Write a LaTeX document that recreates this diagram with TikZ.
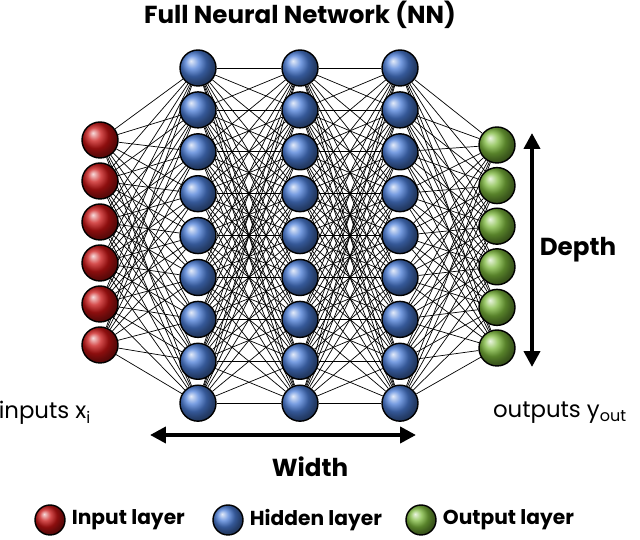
\documentclass[tikz,border=0pt]{standalone}
\usepackage{fontspec}
\setmainfont{Poppins}
\usetikzlibrary{arrows.meta}
\usetikzlibrary{backgrounds}
\definecolor{neuronred}{RGB}{200,20,20}
\definecolor{neuronblue}{RGB}{75,125,215}
\definecolor{neurongreen}{RGB}{125,185,60}
\begin{document}
\begin{tikzpicture}
[x=0.02cm,y=-0.02cm,
  neurondecorate/.style={shape=circle,minimum size=0.72cm,inner sep=0pt,draw=black,thick},%
  inputnode/.style={neurondecorate,ball color=neuronred},%
  hiddennode/.style={neurondecorate,ball color=neuronblue},%
  outputnode/.style={neurondecorate,ball color=neurongreen},%
  linedecorate/.style={-,line width=0.4pt,black},%
  arrowdecorate/.style={{Triangle[length=9pt,width=9pt]}-{Triangle[length=9pt,width=9pt]},line width=2.2pt}]
\useasboundingbox (0,0) rectangle (640,540);
%% nodes or neurons
\foreach \i in {1,...,6}
{
  \node (in\i) at (100,{140+41*(\i-1)}) [inputnode] {};
  \node (out\i) at (497,{145+40.6*(\i-1)}) [outputnode] {};
}
\foreach \layer/\x in {a/198, b/300, c/400}
{
  \foreach \i in {1,...,9}
    \node (\layer\i) at (\x,{68+41.9*(\i-1)}) [hiddennode] {};
}
%% edges or synapses
\begin{pgfonlayer}{background}
\foreach \i in {1,...,6}
  \foreach \j in {1,...,9}
  {
    \draw[linedecorate] (in\i) -- (a\j);
    \draw[linedecorate] (c\j) -- (out\i);
  }
\foreach \startlayer/\endlayer in {a/b, b/c}
  \foreach \i in {1,...,9}
    \foreach \j in {1,...,9}
      \draw[linedecorate] (\startlayer\i) -- (\endlayer\j);
\end{pgfonlayer}
%% labels
\node (title) at (300,15) {\fontsize{14}{16}\selectfont\bfseries Full Neural Network (NN)};
\node (inputs) at (45,413) {\fontsize{13}{15}\selectfont inputs x\textsubscript{i}};
\node (outputs) at (560,413) {\fontsize{13}{15}\selectfont outputs y\textsubscript{out}};
\coordinate (wl) at (150,435);
\coordinate (wr) at (416,435);
\draw[arrowdecorate] (wl) -- (wr);
\node (width) at (310,467) {\fontsize{14}{16}\selectfont\bfseries Width};
\coordinate (dt) at (532,133);
\coordinate (db) at (532,367);
\draw[arrowdecorate] (dt) -- (db);
\node (depth) at (578,250) {\fontsize{14}{16}\selectfont\bfseries Depth};
%% legend
\node (legin) at (50,520) [inputnode,minimum size=0.6cm] {};
\node [right] at (legin.east) {\fontsize{11.5}{13}\selectfont\bfseries Input layer};
\node (leghid) at (228,520) [hiddennode,minimum size=0.6cm] {};
\node [right] at (leghid.east) {\fontsize{11.5}{13}\selectfont\bfseries Hidden layer};
\node (legout) at (421,520) [outputnode,minimum size=0.6cm] {};
\node [right] at (legout.east) {\fontsize{11.5}{13}\selectfont\bfseries Output layer};
\end{tikzpicture}
\end{document}
